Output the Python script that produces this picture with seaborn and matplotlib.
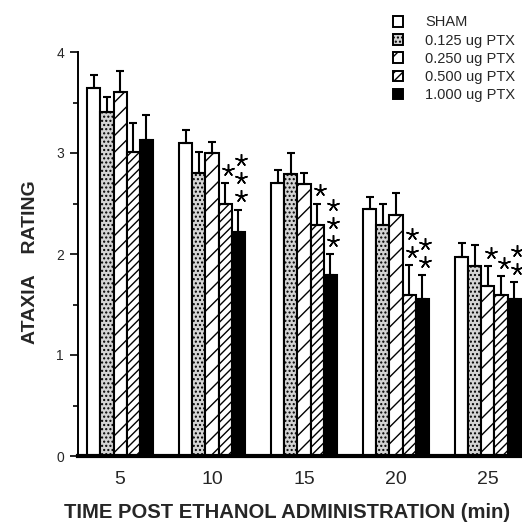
import matplotlib
matplotlib.use("Agg")
import matplotlib.pyplot as plt
from matplotlib.patches import Patch
import numpy as np
import pandas as pd
import seaborn as sns

# ---- data ----
times = ["5", "10", "15", "20", "25"]
doses = ["SHAM", "0.125 ug PTX", "0.250 ug PTX", "0.500 ug PTX", "1.000 ug PTX"]
sham = [3.64, 3.10, 2.70, 2.45, 1.97]
ptx_0125 = [3.41, 2.80, 2.79, 2.29, 1.88]
ptx_0250 = [3.60, 3.00, 2.69, 2.39, 1.68]
ptx_0500 = [3.01, 2.50, 2.29, 1.59, 1.59]
ptx_1000 = [3.13, 2.22, 1.79, 1.55, 1.55]
err_sham = [0.13, 0.13, 0.13, 0.11, 0.14]
err_0125 = [0.14, 0.21, 0.21, 0.21, 0.21]
err_0250 = [0.21, 0.11, 0.11, 0.21, 0.20]
err_0500 = [0.29, 0.20, 0.21, 0.30, 0.19]
err_1000 = [0.25, 0.22, 0.21, 0.24, 0.17]
# number of significance stars per bar
stars_sham = [0, 0, 0, 0, 0]
stars_0125 = [0, 0, 0, 0, 0]
stars_0250 = [0, 0, 0, 0, 1]
stars_0500 = [0, 1, 1, 2, 1]
stars_1000 = [0, 3, 3, 2, 2]

means = [sham, ptx_0125, ptx_0250, ptx_0500, ptx_1000]
errs = [err_sham, err_0125, err_0250, err_0500, err_1000]
stars = [stars_sham, stars_0125, stars_0250, stars_0500, stars_1000]

rows = []
for d, m in zip(doses, means):
    for t, v in zip(times, m):
        rows.append({"time": t, "dose": d, "rating": v})
df = pd.DataFrame(rows)

# ---- style ----
sns.set_style("ticks")
plt.rcParams["font.family"] = ["Liberation Sans", "DejaVu Sans"]
plt.rcParams["hatch.color"] = "black"
plt.rcParams["hatch.linewidth"] = 1.0

faces = ["white", "#d4d4d4", "white", "white", "black"]
hatches = [None, "....", "//", "////", None]
palette = dict(zip(doses, faces))

fig = plt.figure(figsize=(5.22, 5.23), dpi=100)
ax = fig.add_axes([78 / 522, 67 / 523, 444 / 522, 404 / 523])

sns.barplot(data=df, x="time", y="rating", hue="dose", order=times,
            hue_order=doses, palette=palette, width=0.71, errorbar=None,
            edgecolor="black", linewidth=1.5, legend=False, ax=ax,
            saturation=1)

bar_conts = list(ax.containers)
for i, cont in enumerate(bar_conts):
    xs, hs = [], []
    for j, bar in enumerate(cont.patches):
        bar.set_facecolor(faces[i])
        bar.set_edgecolor("black")
        if hatches[i]:
            bar.set_hatch(hatches[i])
        xs.append(bar.get_x() + bar.get_width() / 2)
        hs.append(bar.get_height())
    xs = np.array(xs)
    hs = np.array(hs)
    e = np.array(errs[i])
    ax.errorbar(xs, hs, yerr=[np.zeros_like(e), e], fmt="none",
                ecolor="black", elinewidth=1.5, capsize=3, capthick=1.5,
                zorder=5)
    for j in range(len(xs)):
        for k in range(stars[i][j]):
            ax.plot(xs[j] + 0.03, hs[j] + e[j] + 0.13 + 0.18 * k,
                    marker=(5, 2, 0), markersize=9, color="black",
                    markeredgewidth=1.1, linestyle="none", zorder=6)

ax.set_xlim(-0.457, 4.37)
ax.set_ylim(0, 4)
ax.set_yticks([0, 1, 2, 3, 4])
ax.set_yticks([0.5, 1.5, 2.5, 3.5], minor=True)
ax.tick_params(axis="y", which="major", length=6, width=1.2, direction="out",
               labelsize=10, pad=4, color="black")
ax.tick_params(axis="y", which="minor", length=3.5, width=1.2, direction="out",
               color="black")
ax.tick_params(axis="x", which="major", length=0, labelsize=14, pad=11)

for s in ["top", "right"]:
    ax.spines[s].set_visible(False)
ax.spines["left"].set_linewidth(1.4)
ax.spines["left"].set_color("black")
ax.spines["bottom"].set_linewidth(3)
ax.spines["bottom"].set_color("black")

ax.set_xlabel("TIME POST ETHANOL ADMINISTRATION (min)", fontsize=14.6,
              fontweight="bold")
ax.xaxis.label.set_va("center")
ax.xaxis.set_label_coords((287.5 - 78) / 444, (456 - 512) / 404)
ax.set_ylabel("ATAXIA    RATING", fontsize=14, fontweight="bold")
ax.yaxis.label.set_va("center")
ax.yaxis.set_label_coords((31 - 78) / 444, (456 - 262) / 404)

handles = [Patch(facecolor=f, edgecolor="black", hatch=h, linewidth=1.4)
           for f, h in zip(faces, hatches)]
ax.legend(handles, doses, loc="upper left",
          bbox_to_anchor=(393 / 522, 1 - 15.5 / 523),
          bbox_transform=fig.transFigure, frameon=False, fontsize=10.5,
          handlelength=0.7, handleheight=0.7, handletextpad=1.5,
          labelspacing=0.28, borderpad=0, borderaxespad=0)

fig.savefig("out.png", dpi=100)
